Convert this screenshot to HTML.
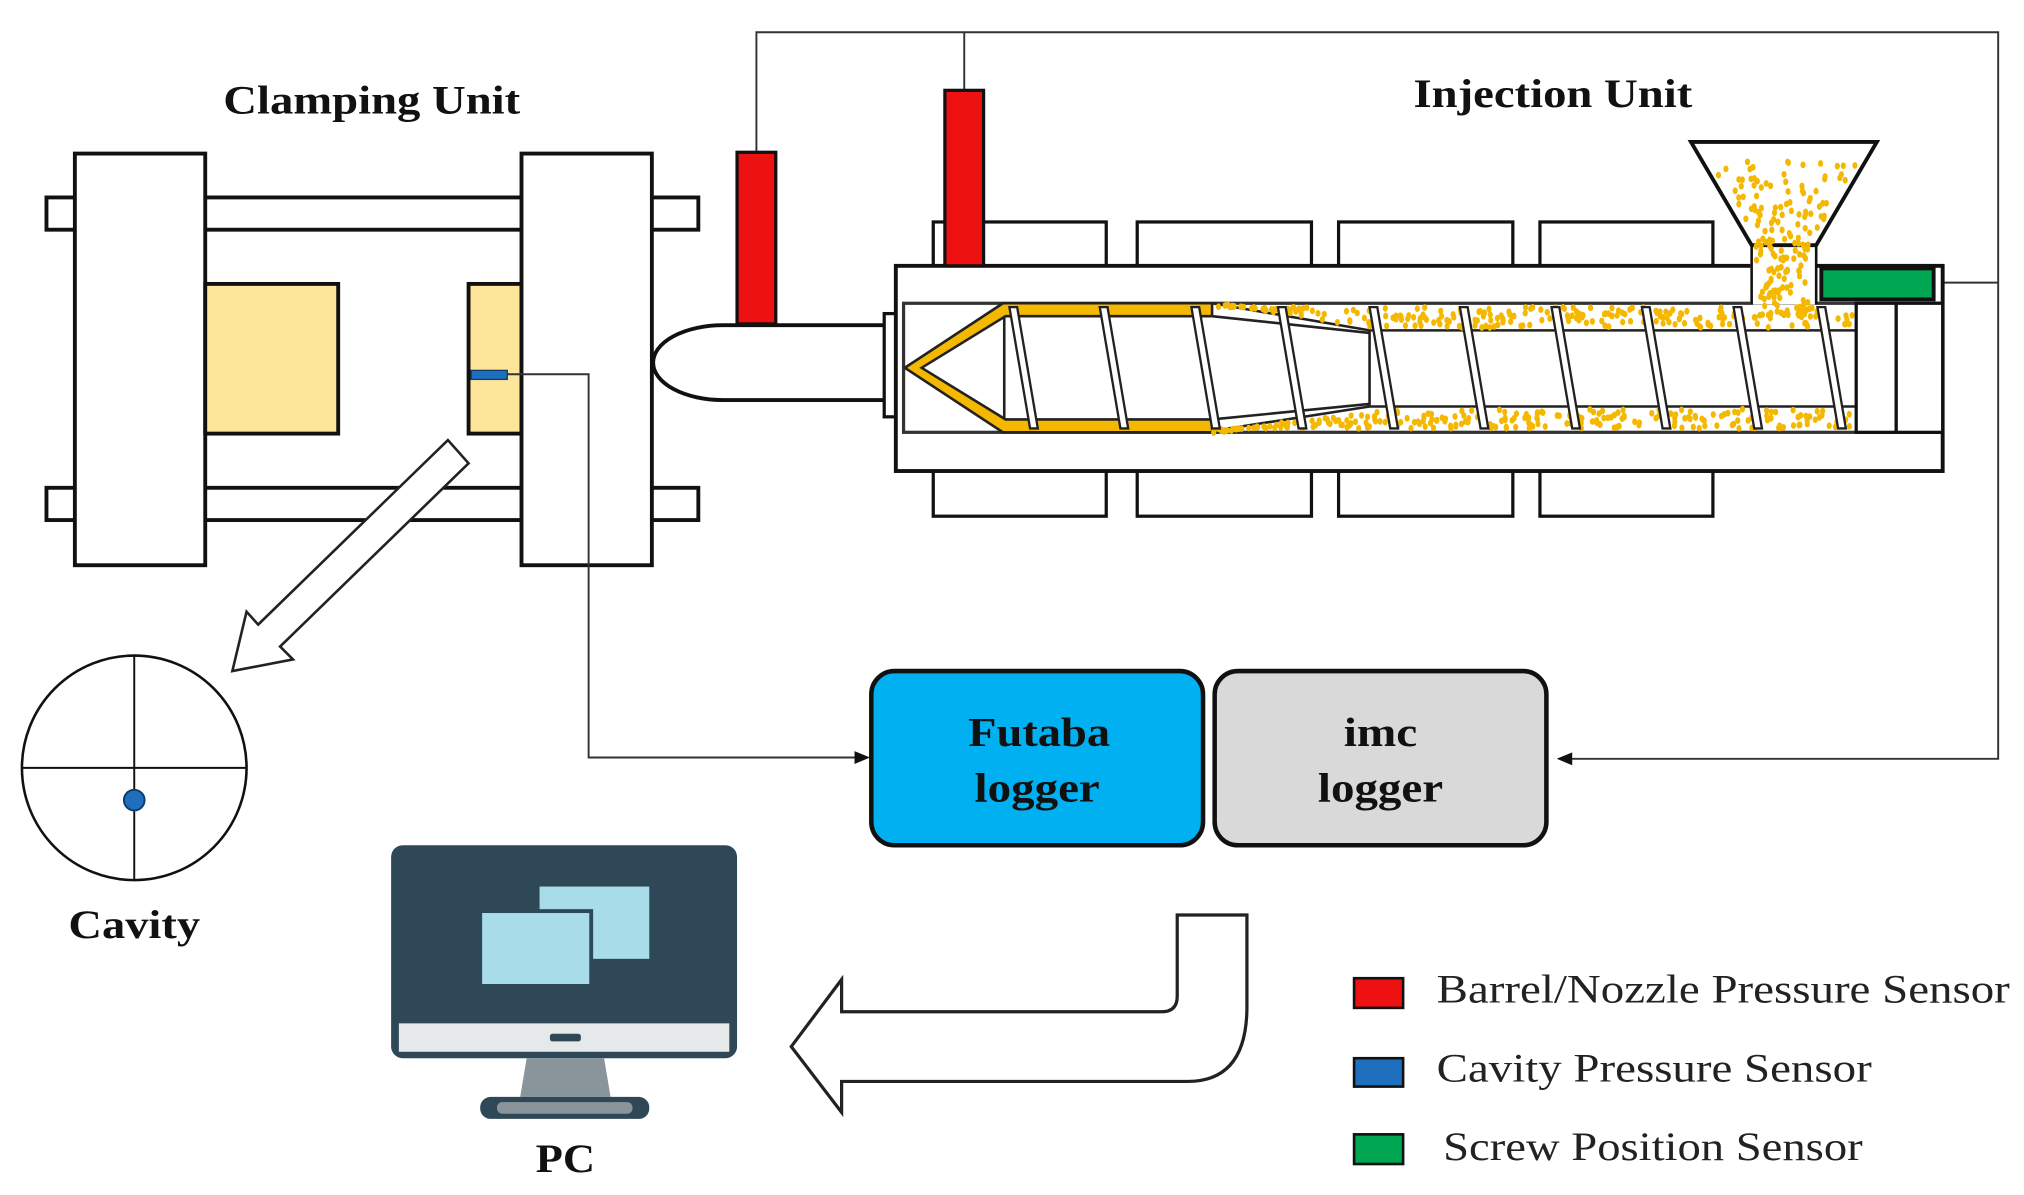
<!DOCTYPE html>
<html><head><meta charset="utf-8"><style>
html,body{margin:0;padding:0;background:#fff;}
svg{display:block;}
text{font-family:"Liberation Serif",serif;}
</style></head><body>
<svg id="s" xmlns="http://www.w3.org/2000/svg" width="2024" height="1195" viewBox="0 0 1568 926" preserveAspectRatio="none">
<g stroke="#111" stroke-width="3" fill="#fff">
<rect x="36" y="153" width="505" height="25"/>
<rect x="36" y="378" width="505" height="25"/>
<rect x="58" y="119" width="101" height="319"/>
<rect x="159" y="220" width="103" height="116" fill="#fde59a"/>
<rect x="363" y="220" width="41" height="116" fill="#fde59a"/>
<rect x="404" y="119" width="101" height="319"/>
</g>
<rect x="365" y="287" width="28" height="7" fill="#1f6fbf" stroke="#0d3a66" stroke-width="1"/>
<polyline points="393,290 456,290 456,587 664,587" fill="none" stroke="#333" stroke-width="1.5"/>
<polygon points="674,587 662,582 662,592" fill="#111"/>
<g stroke="#111" stroke-width="2.5" fill="#fff">
<rect x="723" y="172" width="134" height="34"/><rect x="881" y="172" width="135" height="34"/><rect x="1037" y="172" width="135" height="34"/><rect x="1193" y="172" width="134" height="34"/>
<rect x="723" y="365" width="134" height="35"/><rect x="881" y="365" width="135" height="35"/><rect x="1037" y="365" width="135" height="35"/><rect x="1193" y="365" width="134" height="35"/>
</g>
<polyline points="586,118 586,25 1548,25 1548,588 1216,588" fill="none" stroke="#333" stroke-width="1.5"/>
<polygon points="1206,588 1218,583 1218,593" fill="#111"/>
<line x1="747" y1="25" x2="747" y2="70" stroke="#333" stroke-width="1.5"/>
<line x1="1497" y1="219" x2="1548" y2="219" stroke="#333" stroke-width="1.5"/>
<path d="M688 252 L560 252 A54 29 0 0 0 560 310 L688 310 Z" fill="#fff" stroke="#111" stroke-width="3"/>
<rect x="685" y="243" width="10" height="80" fill="#fff" stroke="#111" stroke-width="2.5"/>
<rect x="694" y="206" width="811" height="159" fill="#fff" stroke="#111" stroke-width="3"/>
<rect x="700" y="235" width="805" height="100" fill="#fff" stroke="#333" stroke-width="2.5"/>
<rect x="1356" y="200" width="51" height="36" fill="#fff"/>
<polygon points="701,285 777,235 939,235 1061,256 1438,256 1438,315 1061,315 939,334 777,334" fill="#fff" stroke="#222" stroke-width="2"/>
<polygon points="701,285 777,235 939,235 939,335 777,335" fill="#f5b800" stroke="#222" stroke-width="2"/>
<polygon points="714,285 779,245 939,245 1061,258 1061,313 939,325 779,325" fill="#fff" stroke="#222" stroke-width="2"/>
<line x1="778" y1="245" x2="778" y2="325" stroke="#222" stroke-width="2"/>
<line x1="1061" y1="256" x2="1061" y2="315" stroke="#222" stroke-width="1.5"/>
<g id="pel" fill="#f5b800"></g>
<g id="fl" fill="#fff" stroke="#222" stroke-width="1.8"></g>
<rect x="1438" y="235" width="31" height="100" fill="#fff" stroke="#111" stroke-width="2.5"/>
<rect x="1469" y="235" width="36" height="100" fill="#fff" stroke="#111" stroke-width="2.5"/>
<polygon points="1310,110 1454,110 1407,190 1357,190" fill="#fff" stroke="#111" stroke-width="3"/>
<line x1="1357" y1="190" x2="1357" y2="236" stroke="#111" stroke-width="2"/>
<line x1="1407" y1="190" x2="1407" y2="236" stroke="#111" stroke-width="2"/>
<g id="hop" fill="#f5b800"></g>
<rect x="1411" y="208" width="87" height="24" fill="#00a651" stroke="#111" stroke-width="3"/>
<rect x="571" y="118" width="30" height="133" fill="#ee1111" stroke="#111" stroke-width="2.5"/>
<rect x="732" y="70" width="30" height="136" fill="#ee1111" stroke="#111" stroke-width="2.5"/>
<text x="173" y="88" font-size="31" font-weight="bold" textLength="230" lengthAdjust="spacingAndGlyphs" fill="#111">Clamping Unit</text>
<text x="1095" y="83" font-size="31" font-weight="bold" textLength="216" lengthAdjust="spacingAndGlyphs" fill="#111">Injection Unit</text>
<polygon points="363,359 217,501 227,511 180,520 191,474 200,484 347,341" fill="#fff" stroke="#222" stroke-width="2"/>
<circle cx="104" cy="595" r="87" fill="#fff" stroke="#111" stroke-width="2"/>
<line x1="17" y1="595" x2="191" y2="595" stroke="#111" stroke-width="1.5"/>
<line x1="104" y1="508" x2="104" y2="682" stroke="#111" stroke-width="1.5"/>
<circle cx="104" cy="620" r="8" fill="#1f6fbf" stroke="#0d3a66" stroke-width="1.5"/>
<text x="53" y="727" font-size="31" font-weight="bold" textLength="102" lengthAdjust="spacingAndGlyphs" fill="#111">Cavity</text>
<rect x="675" y="520" width="257" height="135" rx="18" fill="#00b0f0" stroke="#111" stroke-width="3.5"/>
<rect x="941" y="520" width="257" height="135" rx="18" fill="#d9d9d9" stroke="#111" stroke-width="3.5"/>
<text x="750" y="578" font-size="32" font-weight="bold" textLength="110" lengthAdjust="spacingAndGlyphs" fill="#111">Futaba</text>
<text x="755" y="621" font-size="32" font-weight="bold" textLength="97" lengthAdjust="spacingAndGlyphs" fill="#111">logger</text>
<text x="1041" y="578" font-size="32" font-weight="bold" textLength="57" lengthAdjust="spacingAndGlyphs" fill="#111">imc</text>
<text x="1021" y="621" font-size="32" font-weight="bold" textLength="97" lengthAdjust="spacingAndGlyphs" fill="#111">logger</text>
<path d="M912 709 L966 709 L966 780 Q966 838 920 838 L652 838 L652 862 L613 811 L652 759 L652 784 L900 784 Q912 784 912 772 Z" fill="#fff" stroke="#222" stroke-width="2.5"/>
<rect x="303" y="655" width="268" height="165" rx="9" fill="#2f4858"/>
<rect x="309" y="793" width="256" height="22" fill="#e6e9ea"/>
<rect x="426" y="801" width="24" height="6" rx="2" fill="#2f4858"/>
<rect x="418" y="687" width="85" height="56" fill="#a8dce9"/>
<rect x="372" y="706" width="86" height="58" fill="#a8dce9" stroke="#2f4858" stroke-width="3"/>
<polygon points="408,820 468,820 473,850 403,850" fill="#8a959b"/>
<rect x="372" y="850" width="131" height="17" rx="8" fill="#2f4858"/>
<rect x="385" y="854" width="105" height="9" rx="4" fill="#8a959b"/>
<text x="415" y="908" font-size="31" font-weight="bold" textLength="46" lengthAdjust="spacingAndGlyphs" fill="#111">PC</text>
<rect x="1049" y="758" width="38" height="23" fill="#ee1111" stroke="#111" stroke-width="2"/>
<rect x="1049" y="820" width="38" height="22" fill="#1f6fbf" stroke="#111" stroke-width="2"/>
<rect x="1049" y="879" width="38" height="23" fill="#00a651" stroke="#111" stroke-width="2"/>
<g font-size="31" fill="#222">
<text x="1113" y="777" textLength="444" lengthAdjust="spacingAndGlyphs">Barrel/Nozzle Pressure Sensor</text>
<text x="1113" y="838" textLength="337" lengthAdjust="spacingAndGlyphs">Cavity Pressure Sensor</text>
<text x="1118" y="899" textLength="325" lengthAdjust="spacingAndGlyphs">Screw Position Sensor</text>
</g>
</svg>
<script>
var NS="http://www.w3.org/2000/svg";
var k=1;function r(){var v=Math.sin(k++*12.9898)*43758.5453;return v-Math.floor(v);}
function dot(g,x,y){var e=document.createElementNS(NS,"ellipse");e.setAttribute("cx",x.toFixed(1));e.setAttribute("cy",y.toFixed(1));e.setAttribute("rx",2);e.setAttribute("ry",2.6);g.appendChild(e);}
var p=document.getElementById("pel");
for(var i=0;i<500;i++){var x=940+r()*495;var y;
 if(i%2==0){var lim=x<1061?236+(x-939)/122*20:256;y=238+r()*(lim-240);}else{var lim2=x<1061?334-(x-939)/122*19:315;y=lim2+2+r()*(333-lim2-3);}
 dot(p,x,y);}
var h=document.getElementById("hop");
for(var i=0;i<170;i++){var y=125+r()*120;var x;
 if(y<190){var t=(y-110)/80;var l=1310+t*47+6,rr=1454-t*47-6;x=l+r()*(rr-l);}else{x=1360+r()*44;}
 dot(h,x,y);}
var f=document.getElementById("fl");
[785,855,926,993,1064,1134,1205,1275,1346,1411].forEach(function(x){var e=document.createElementNS(NS,"polygon");
e.setAttribute("points",(x-3)+",238 "+(x+3)+",238 "+(x+19)+",332 "+(x+13)+",332");f.appendChild(e);});
</script>
</body></html>
